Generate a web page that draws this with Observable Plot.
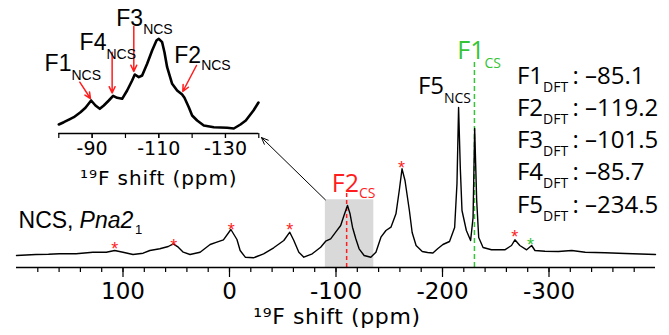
<!DOCTYPE html>
<html>
<head>
<meta charset="utf-8">
<script src="https://cdn.jsdelivr.net/npm/d3@7"></script>
<script src="https://cdn.jsdelivr.net/npm/@observablehq/plot@0.6"></script>
<style>
  body { margin: 0; background: #fff; }
  #wrap { position: relative; width: 669px; height: 335px; overflow: hidden; }
  #wrap svg { position: absolute; left: 0; top: 0; overflow: visible; max-width: none; }
</style>
</head>
<body>
<div id="wrap"></div>
<script>
// ---------------- DATA ----------------
// Main 19F MAS spectrum (chemical shift in ppm, intensity in arbitrary units)
const mainPpm = [200,181.7,170,159.7,144,128.3,115.7,107.8,100,90.6,81.1,74.8,65.4,57.5,52.8,48.1,43.4,37.1,27.6,18.2,11.9,5.7,-1.3,-7,-10,-14.8,-22.6,-32,-41.5,-51,-56.6,-60.4,-65.1,-69.8,-77.7,-85.6,-90.3,-95,-99.7,-104.4,-107.5,-110.8,-113.2,-115.5,-118.6,-121.7,-126.4,-132.7,-137.5,-142.2,-146.9,-151.6,-156.3,-159.4,-162,-164.8,-168.9,-171.5,-175.2,-181,-186,-191,-195.7,-200.4,-206.6,-211.4,-213.6,-215.1,-216.7,-218.3,-222.4,-226.4,-228.7,-230.2,-232.1,-234,-238.1,-246,-253.8,-258.5,-264.8,-268,-272.6,-279,-283.7,-286.8,-296.2,-308.9,-315,-321.4,-334,-352.8,-371.7,-400];
const mainInt = [12,13,13.2,13.7,13.7,15.3,15.3,17,15.3,13,14.3,17,18.7,21,23.7,20.3,15.3,13,15.3,23,25.3,27.7,38,28,17,10.3,9.7,13.7,19.7,27,35.3,27,15.3,10.3,13.7,20.3,26.3,28.7,35.3,42,52,62,53.7,40.3,28.7,18.7,12,10.3,15.3,30.3,37,40.3,53.7,77,98.7,87,57,35,22,16,15,14.5,19,23,26,40,84,160,100,57,37,27,50,139,67,30,20,17.7,17.7,17.7,22,27.7,22,17.7,22,17,16.3,16,16.5,17,15.3,14.7,14,13];

// Inset: expanded region of the spectrum
const insetPpm = [-80,-81.5,-83.5,-84.5,-86.5,-88,-89.7,-91,-92.3,-93.5,-95,-96.3,-97.5,-99,-100.5,-102,-102.8,-104,-105,-106.5,-108,-109.3,-110,-111,-111.7,-112.5,-114,-115.5,-117,-117.7,-119,-120,-121.5,-123.5,-126.5,-130.5,-132.5,-134.5,-136.1,-138.4,-139.9];
const insetInt = [9,11.3,14.7,16.3,21.3,25.7,33,28,24.7,28,33,37.7,35.7,34.7,43,53,59,56.3,58,69.7,83,93,94.7,91.3,81.3,66.3,49.7,43,39,35.7,26.3,18,13,8,6.3,5.7,5,9,13,23,31];

// Spinning sidebands (red) and impurity (green), marked by asterisks
const redStarPpm = [107.7, 52.3, -1.6, -56.6, -161.5, -267.9];
const redStarInt = [22.7, 26.3, 42, 42, 103.7, 34.7];
const greenStarPpm = [-282.6];
const greenStarInt = [27];

// Axis ticks
const mainTicks = d3.range(180, -381, -20);
const mainTickLabels = [100, 0, -100, -200, -300];
const insetTicks = d3.range(-80, -141, -10);
const insetTickLabels = [-90, -110, -130];

// DFT shifts
const dftSites = ["F1", "F2", "F3", "F4", "F5"];
const dftValues = [-85.1, -119.2, -101.5, -85.7, -234.5];

// Assignments
const f5ncsShift = -215;  // F5 NCS peak
const f1csShift = -230;   // F1 CS
const f2csShift = -110;   // F2 CS
const zoomRange = [-90, -135.5];

// ---------------- STYLE ----------------
const RED = "#ff1d1d", GREEN = "#35c435";
const SANS = "'Liberation Sans', Arial, sans-serif";
const MYR = "'Open Sans', sans-serif";
const AXF = "'DejaVu Sans', sans-serif";

function subLabel(x, y, main, sub, o) {
  return [
    Plot.text([main], {x, y, text: d => d, textAnchor: "end", lineAnchor: "bottom",
      fontFamily: o.font, fontSize: o.size, fill: o.fill || "black"}),
    Plot.text([sub], {x, y, text: d => d, textAnchor: "start", lineAnchor: "bottom", dy: o.dy,
      fontFamily: o.font, fontSize: o.subSize, fill: o.fill || "black"})
  ];
}

const mainRows = mainPpm.map((p, i) => ({ppm: p, v: mainInt[i]}));
const insetRows = insetPpm.map((p, i) => ({ppm: p, v: insetInt[i]}));
const redStars = redStarPpm.map((p, i) => ({ppm: p, v: redStarInt[i]}));
const greenStars = greenStarPpm.map((p, i) => ({ppm: p, v: greenStarInt[i]}));
const dftRows = dftSites.map((s, i) => ({site: s, val: dftValues[i], row: i}));

const dftRowH = (i) => 184 - i * 32.3;

// ---------------- MAIN PLOT ----------------
const main = Plot.plot({
  width: 669, height: 335,
  marginLeft: 16, marginRight: 14, marginTop: 0, marginBottom: 68,
  x: {domain: [200, -400], label: null},
  y: {domain: [0, 267], axis: null},
  style: {background: "transparent", fontFamily: AXF, color: "black", overflow: "visible"},
  marks: [
    Plot.rect([{a: zoomRange[0], b: zoomRange[1]}], {x1: "a", x2: "b", y1: 0, y2: 67.7, fill: "#d9d9d9"}),
    Plot.ruleX([f2csShift], {y1: 0, y2: 75, stroke: RED, strokeWidth: 1.5, strokeDasharray: "4,3"}),
    Plot.ruleX([f1csShift], {y1: 0, y2: 207, stroke: GREEN, strokeWidth: 1.5, strokeDasharray: "5,3"}),
    Plot.line(mainRows, {x: "ppm", y: "v", stroke: "black", strokeWidth: 1.4, strokeLinejoin: "round"}),
    Plot.ruleY([0], {stroke: "black", strokeWidth: 1.3}),
    Plot.axisX({ticks: mainTicks, tickSize: 5, tickFormat: () => "", label: null, strokeWidth: 1.2}),
    Plot.axisX({ticks: mainTickLabels, tickSize: 10, tickPadding: 5, tickFormat: d => String(d),
      fontSize: 23, label: null, strokeWidth: 1.2}),
    Plot.text(["¹⁹F shift (ppm)"], {frameAnchor: "bottom", lineAnchor: "bottom", dy: 56, dx: 1,
      fontSize: 22, fontFamily: AXF}),
    Plot.text(redStars, {x: "ppm", y: "v", text: () => "*", fill: RED, fontSize: 18, fontFamily: SANS,
      lineAnchor: "bottom", dy: 10.5}),
    Plot.text(greenStars, {x: "ppm", y: "v", text: () => "*", fill: GREEN, fontSize: 18, fontFamily: SANS,
      lineAnchor: "bottom", dy: 10.5}),
    // connector from highlighted region to inset
    Plot.arrow([{x1: zoomRange[0], y1: 67.7, x2: -30, y2: 130}], {x1: "x1", y1: "y1", x2: "x2", y2: "y2",
      stroke: "black", strokeWidth: 1, headLength: 11, headAngle: 45}),
    // sample label
    Plot.text(["NCS,"], {x: 198.1, y: 40, textAnchor: "start", lineAnchor: "bottom", fontFamily: SANS, fontSize: 23}),
    Plot.text(["Pna2"], {x: 140.8, y: 40, textAnchor: "start", lineAnchor: "bottom", fontFamily: SANS, fontSize: 23, fontStyle: "italic"}),
    Plot.text(["1"], {x: 88.7, y: 34, textAnchor: "start", lineAnchor: "bottom", fontFamily: SANS, fontSize: 13}),
    // peak assignments
    ...subLabel(-201.4, 174, "F5", "NCS", {font: MYR, size: 24, subSize: 14, dy: 9}),
    ...subLabel(-239.4, 209, "F1", "CS", {font: MYR, size: 25, subSize: 14, dy: 9, fill: GREEN}),
    ...subLabel(-121.6, 76, "F2", "CS", {font: MYR, size: 25, subSize: 14, dy: 6, fill: RED}),
    // DFT list
    Plot.text(dftRows, {x: -294.4, y: d => dftRowH(d.row), text: "site", textAnchor: "end", lineAnchor: "bottom",
      fontFamily: MYR, fontSize: 24}),
    Plot.text(dftRows, {x: -294.4, y: d => dftRowH(d.row), text: () => "DFT", textAnchor: "start", lineAnchor: "bottom",
      dy: 8, fontFamily: MYR, fontSize: 14}),
    Plot.text(dftRows, {x: -322.1, y: d => dftRowH(d.row), text: d => ": \u2013" + Math.abs(d.val).toFixed(1),
      textAnchor: "start", lineAnchor: "bottom", fontFamily: MYR, fontSize: 24})
  ]
});

// ---------------- INSET PLOT ----------------
const inset = Plot.plot({
  width: 270, height: 190,
  marginLeft: 58.3, marginRight: 11.7, marginTop: 0, marginBottom: 57,
  x: {domain: [-80, -140], label: null},
  y: {domain: [0, 133], axis: null},
  style: {background: "transparent", fontFamily: AXF, color: "black", overflow: "visible"},
  marks: [
    Plot.ruleY([0], {stroke: "black", strokeWidth: 1.3}),
    Plot.axisX({ticks: insetTicks, tickSize: 5, tickFormat: () => "", label: null, strokeWidth: 1.2}),
    Plot.axisX({ticks: insetTickLabels, tickSize: 5, tickPadding: 3, tickFormat: d => String(d),
      fontSize: 19, label: null, strokeWidth: 1.2}),
    Plot.text(["¹⁹F shift (ppm)"], {frameAnchor: "bottom", lineAnchor: "bottom", dy: 51, fontSize: 20, fontFamily: AXF}),
    Plot.line(insetRows, {x: "ppm", y: "v", stroke: "black", strokeWidth: 2.6, strokeLinejoin: "round"}),
    Plot.arrow([
      {x1: -86.3, y1: 51.3, x2: -89.5, y2: 35},
      {x1: -96, y1: 81.3, x2: -96, y2: 40.5},
      {x1: -102.5, y1: 107, x2: -102.5, y2: 62},
      {x1: -121.3, y1: 68, x2: -117.2, y2: 42}
    ], {x1: "x1", y1: "y1", x2: "x2", y2: "y2", stroke: RED, strokeWidth: 1.5, headLength: 7, headAngle: 50}),
    ...subLabel(-83.8, 63, "F1", "NCS", {font: SANS, size: 23, subSize: 14, dy: 9}),
    ...subLabel(-94.3, 84, "F4", "NCS", {font: SANS, size: 23, subSize: 14, dy: 9}),
    ...subLabel(-105.3, 108, "F3", "NCS", {font: SANS, size: 23, subSize: 14, dy: 8}),
    ...subLabel(-122.7, 71, "F2", "NCS", {font: SANS, size: 23, subSize: 14, dy: 7})
  ]
});

const wrap = document.getElementById("wrap");
wrap.appendChild(main);
wrap.appendChild(inset);

// stretch axis titles slightly (letter spacing)
d3.select(main).selectAll("text").filter(function () { return this.textContent.startsWith("¹⁹"); })
  .style("letter-spacing", "0.6px");
d3.select(inset).selectAll("text").filter(function () { return this.textContent.startsWith("¹⁹"); })
  .style("letter-spacing", "0.9px");
</script>
</body>
</html>
